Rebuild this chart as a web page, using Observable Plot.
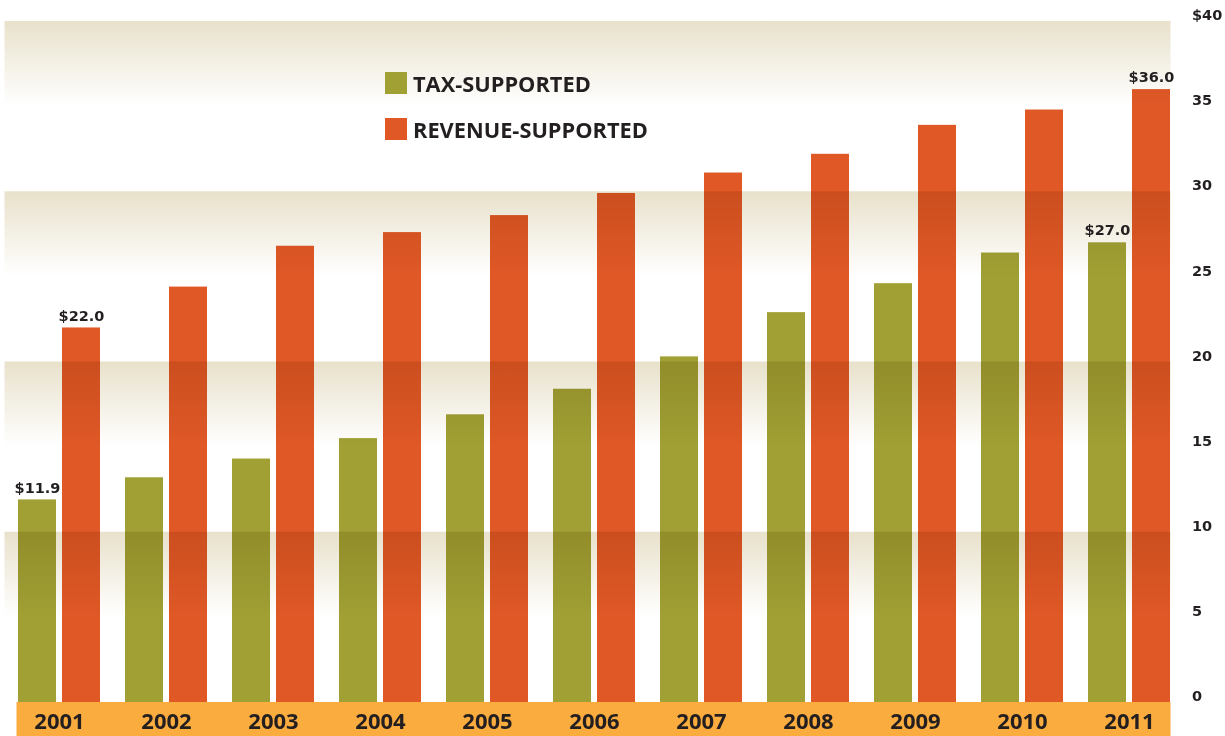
<!DOCTYPE html>
<html>
<head>
<meta charset="utf-8">
<script src="https://cdn.jsdelivr.net/npm/d3@7"></script>
<script src="https://cdn.jsdelivr.net/npm/@observablehq/plot@0.6"></script>
<style>
  html, body { margin: 0; padding: 0; background: #ffffff; }
  #wrap { position: relative; width: 1225px; height: 736px; overflow: hidden; }
  .legend { position: absolute; left: 385px; top: 72px; font-family: "Open Sans", sans-serif; font-weight: 700; font-size: 21.8px; color: #231f20; }
  .legend .row { display: flex; align-items: center; height: 22px; margin-bottom: 24px; }
  .legend .sw { width: 22px; height: 22px; margin-right: 6px; flex: none; }
</style>
</head>
<body>
<div id="wrap"></div>
<script>
const years = ["2001","2002","2003","2004","2005","2006","2007","2008","2009","2010","2011"];
const taxSupported = [11.9, 13.2, 14.3, 15.5, 16.9, 18.4, 20.3, 22.9, 24.6, 26.4, 27.0];
const revenueSupported = [22.0, 24.4, 26.8, 27.6, 28.6, 29.9, 31.1, 32.2, 33.9, 34.8, 36.0];
const seriesNames = ["TAX-SUPPORTED", "REVENUE-SUPPORTED"];
const seriesColors = ["#a0a034", "#e05826"];
const yTicks = [0, 5, 10, 15, 20, 25, 30, 35, 40];
const bandTops = [40, 30, 20, 10];
const labelledYears = ["2001", "2011"];

const tax = years.map((y, i) => ({year: y, value: taxSupported[i]}));
const rev = years.map((y, i) => ({year: y, value: revenueSupported[i]}));

const labelFont = {fontFamily: "DejaVu Sans", fontWeight: "bold", fontSize: 14.5, fill: "#231f20"};

const chart = Plot.plot({
  width: 1225,
  height: 736,
  marginTop: 21,
  marginBottom: 34,
  marginLeft: 16.5,
  marginRight: 54.5,
  x: {type: "band", domain: years, paddingInner: 0.235, paddingOuter: 0, align: 0.5},
  y: {domain: [0, 40]},
  marks: [
    Plot.rect([0], {y1: 0, y2: -2, fill: "#fbac3e"}),
    Plot.barY(tax, {x: "year", y: "value", fill: seriesColors[0], insetRight: 44}),
    Plot.barY(rev, {x: "year", y: "value", fill: seriesColors[1], insetLeft: 44}),
    Plot.rect(bandTops, {y1: d => d, y2: d => d - 5, fill: "#e8e1cb", insetLeft: -12, mixBlendMode: "multiply"}),
    Plot.text(tax.filter(d => labelledYears.includes(d.year)), {x: "year", y: "value", text: d => "$" + d.value.toFixed(1), dx: -22, dy: -12, ...labelFont}),
    Plot.text(rev.filter(d => labelledYears.includes(d.year)), {x: "year", y: "value", text: d => "$" + d.value.toFixed(1), dx: 22, dy: -12, ...labelFont}),
    Plot.axisX({tickSize: 0, tickPadding: 11, fontSize: 22, fontWeight: "bold", fontFamily: "Open Sans", fill: "#231f20", label: null}),
    Plot.axisY({anchor: "right", ticks: yTicks, tickSize: 0, tickPadding: 21, dy: -6, tickFormat: d => d === 40 ? "$40" : String(d), label: null, ...labelFont})
  ]
});

// gradient for the background bands
const ns = "http://www.w3.org/2000/svg";
const defs = document.createElementNS(ns, "defs");
const grad = document.createElementNS(ns, "linearGradient");
grad.setAttribute("id", "bandGrad");
grad.setAttribute("x1", "0"); grad.setAttribute("y1", "0");
grad.setAttribute("x2", "0"); grad.setAttribute("y2", "1");
[["0", "#e8e1cb"], ["1", "#ffffff"]].forEach(([o, c]) => {
  const s = document.createElementNS(ns, "stop");
  s.setAttribute("offset", o);
  s.setAttribute("stop-color", c);
  grad.appendChild(s);
});
defs.appendChild(grad);
chart.insertBefore(defs, chart.firstChild);
chart.querySelectorAll('[fill="#e8e1cb"]').forEach(el => el.setAttribute("fill", "url(#bandGrad)"));

const wrap = document.getElementById("wrap");
wrap.appendChild(chart);

const legend = document.createElement("div");
legend.className = "legend";
seriesNames.forEach((name, i) => {
  const row = document.createElement("div");
  row.className = "row";
  const sw = document.createElement("div");
  sw.className = "sw";
  sw.style.background = seriesColors[i];
  const t = document.createElement("span");
  t.textContent = name;
  row.appendChild(sw);
  row.appendChild(t);
  legend.appendChild(row);
});
wrap.appendChild(legend);
</script>
</body>
</html>
